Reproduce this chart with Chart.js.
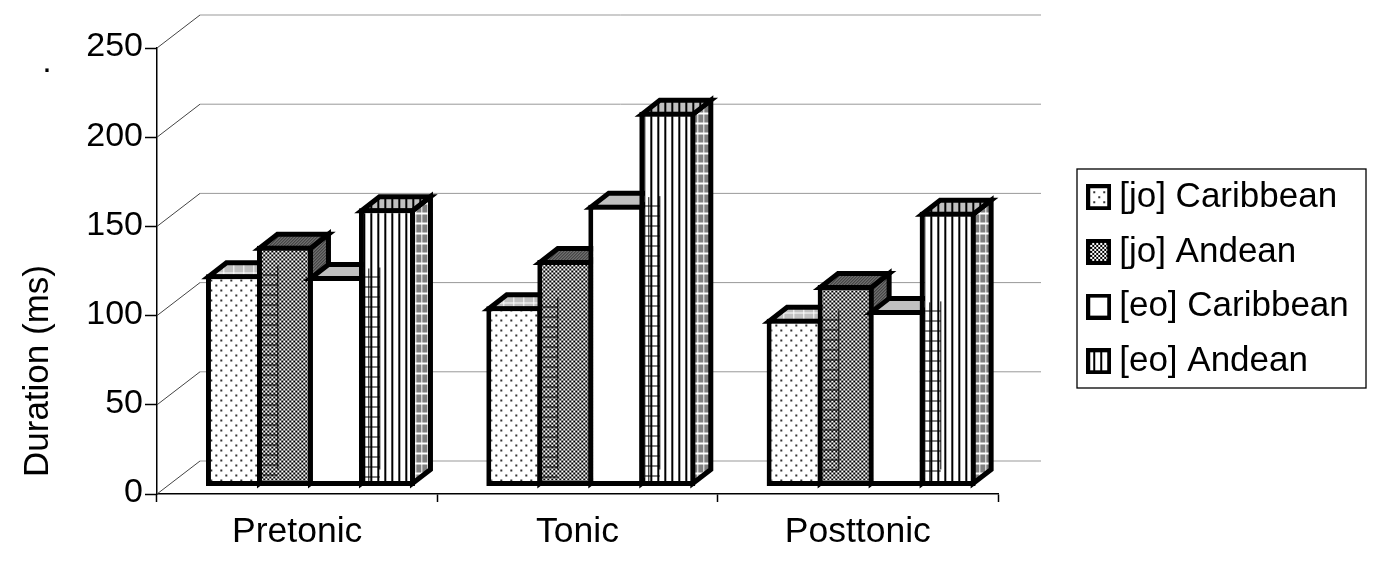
<!DOCTYPE html>
<html>
<head>
<meta charset="utf-8">
<title>Duration</title>
<script src="https://cdn.jsdelivr.net/npm/chart.js@4"></script>
<style>
  html, body { margin: 0; padding: 0; background: #fff; }
  canvas { display: block; }
</style>
</head>
<body>
<canvas id="chart" width="1385" height="568"></canvas>
<script>
const categories = ['Pretonic', 'Tonic', 'Posttonic'];
const jo_caribbean = [119, 101, 94];
const jo_andean = [135, 127, 113];
const eo_caribbean = [118, 158, 99];
const eo_andean = [156, 210, 154];

const FONT = '"Liberation Sans", Arial, sans-serif';
const wall = {dx: 43, dy: 33};       // floor depth of the back wall
const front = {dx: 13.3, dy: 7.5};   // how far the bars stand from the axis plane
const box = {dx: 18, dy: 14};        // depth of a bar
const LINE = 5;

function tile(w, h, paint) {
    const c = document.createElement('canvas');
    c.width = w;
    c.height = h;
    const g = c.getContext('2d');
    paint(g);
    return g.createPattern(c, 'repeat');
}

// front faces
const dots = tile(10, 10, g => {
    g.fillStyle = '#fff';
    g.fillRect(0, 0, 10, 10);
    g.fillStyle = '#333';
    g.fillRect(2, 2, 2, 2);
    g.fillRect(7, 7, 2, 2);
});
const checker = tile(4, 4, g => {
    g.fillStyle = '#fff';
    g.fillRect(0, 0, 4, 4);
    g.fillStyle = '#000';
    g.fillRect(0, 0, 2, 2);
    g.fillRect(2, 2, 2, 2);
});
const stripes = tile(7, 7, g => {
    g.fillStyle = '#fff';
    g.fillRect(0, 0, 7, 7);
    g.fillStyle = '#000';
    g.fillRect(0, 0, 2, 7);
});
// tops and sides
const darkDither = tile(3, 3, g => {
    g.fillStyle = '#333';
    g.fillRect(0, 0, 3, 3);
    g.fillStyle = '#aaa';
    g.fillRect(0, 0, 1, 1);
    g.fillRect(2, 1, 1, 1);
    g.fillRect(1, 2, 1, 1);
});
const greyGrid = tile(10, 10, g => {
    g.fillStyle = '#c0c0c0';
    g.fillRect(0, 0, 10, 10);
    g.fillStyle = '#fff';
    g.fillRect(0, 0, 1, 10);
    g.fillRect(0, 0, 10, 1);
});
const sideGrid = tile(6, 10, g => {
    g.fillStyle = '#808080';
    g.fillRect(0, 0, 6, 10);
    g.fillStyle = '#fff';
    g.fillRect(0, 0, 1, 10);
    g.fillRect(0, 0, 6, 2);
});
const topStripes = tile(7, 7, g => {
    g.fillStyle = '#c0c0c0';
    g.fillRect(0, 0, 7, 7);
    g.fillStyle = '#000';
    g.fillRect(0, 0, 2, 7);
});

const topFill = [greyGrid, darkDither, '#c0c0c0', topStripes];
const sideFill = [greyGrid, darkDither, '#c0c0c0', sideGrid];

function swatch(fill) {
    const c = document.createElement('canvas');
    c.width = 25;
    c.height = 26;
    const g = c.getContext('2d');
    g.fillStyle = '#000';
    g.fillRect(0, 0, 25, 26);
    g.fillStyle = fill;
    g.fillRect(4, 4, 17, 18);
    return c;
}

const series = [
    {label: '[jo] Caribbean', data: jo_caribbean, fill: dots},
    {label: '[jo] Andean', data: jo_andean, fill: checker},
    {label: '[eo] Caribbean', data: eo_caribbean, fill: '#fff'},
    {label: '[eo] Andean', data: eo_andean, fill: stripes}
];

function polygon(ctx, pts, fill) {
    ctx.beginPath();
    pts.forEach((p, i) => i ? ctx.lineTo(p[0], p[1]) : ctx.moveTo(p[0], p[1]));
    ctx.closePath();
    ctx.fillStyle = fill;
    ctx.fill();
    ctx.lineWidth = LINE;
    ctx.strokeStyle = '#000';
    ctx.stroke();
}

function barEdges(el) {
    const p = el.getProps(['x', 'y', 'base', 'width'], true);
    return {
        l: p.x - p.width / 2 + LINE / 2,
        r: p.x + p.width / 2 - LINE / 2,
        t: p.y + LINE / 2,
        b: p.base - LINE / 2
    };
}

const scene = {
    id: 'scene',
    afterLayout(chart) {
        // the legend sits outside the plot, right of the back wall
        const leg = chart.legend;
        leg.left = 1076;
        leg.top = 160;
        leg.width = 300;
        leg.height = 240;
        leg.right = leg.left + leg.width;
        leg.bottom = leg.top + leg.height;
        leg.adjustHitBoxes();
    },
    beforeDatasetsDraw(chart) {
        const ctx = chart.ctx;
        const {x, y} = chart.scales;

        // back wall gridlines and their run down to the axis
        y.ticks.forEach(t => {
            const py = y.getPixelForValue(t.value);
            ctx.lineWidth = 1;
            ctx.strokeStyle = '#444';
            ctx.beginPath();
            ctx.moveTo(x.left, py);
            ctx.lineTo(x.left + wall.dx, py - wall.dy);
            ctx.stroke();
            ctx.strokeStyle = '#999';
            ctx.beginPath();
            ctx.moveTo(x.left + wall.dx, py - wall.dy);
            ctx.lineTo(x.right + wall.dx, py - wall.dy);
            ctx.stroke();
        });

        ctx.save();
        ctx.translate(front.dx, -front.dy);
        ctx.lineJoin = 'miter';

        // left to right so every bar covers the side of the one before
        chart.data.datasets.forEach((ds, i) => {
            chart.getDatasetMeta(i).data.forEach(el => {
                const e = barEdges(el);
                polygon(ctx, [[e.r, e.t], [e.r + box.dx, e.t - box.dy], [e.r + box.dx, e.b - box.dy], [e.r, e.b]], sideFill[i]);
                polygon(ctx, [[e.l, e.t], [e.l + box.dx, e.t - box.dy], [e.r + box.dx, e.t - box.dy], [e.r, e.t]], topFill[i]);
                el.draw(ctx);
            });
        });

        // hatch of the hidden sides shows through the neighbouring bar
        [0, 2].forEach(i => {
            chart.getDatasetMeta(i).data.forEach(el => {
                const e = barEdges(el);
                ctx.strokeStyle = '#000';
                ctx.lineWidth = 1;
                ctx.beginPath();
                const xr = Math.round(e.r + box.dx) + 0.5;
                const xm = Math.round(e.r + 7) + 0.5;
                ctx.moveTo(xr, e.t - box.dy + 3);
                ctx.lineTo(xr, e.b - box.dy);
                if (i === 2) {
                    ctx.moveTo(xm, e.t - box.dy + 4);
                    ctx.lineTo(xm, e.b);
                }
                for (let h = Math.round(e.t - box.dy) + 12.5; h < e.b - 6; h += 10) {
                    ctx.moveTo(e.r + 3, h);
                    ctx.lineTo(xr, h);
                }
                ctx.stroke();
            });
        });
        ctx.restore();
        return false;
    },
    afterDraw(chart) {
        const ctx = chart.ctx;
        ctx.save();

        // legend frame
        ctx.strokeStyle = '#000';
        ctx.lineWidth = 1.3;
        ctx.strokeRect(1077, 169, 289, 219);

        ctx.fillStyle = '#000';
        ctx.textAlign = 'center';
        ctx.textBaseline = 'middle';
        ctx.font = '34px ' + FONT;
        ctx.fillText('.', 47, 63);

        // axis title sits low on the axis
        ctx.translate(38, 371);
        ctx.rotate(-Math.PI / 2);
        ctx.font = '35px ' + FONT;
        ctx.fillText('Duration (ms)', 0, 0);
        ctx.restore();
    }
};

new Chart(document.getElementById('chart').getContext('2d'), {
    type: 'bar',
    data: {
        labels: categories,
        datasets: series.map(s => ({
            label: s.label,
            data: s.data,
            backgroundColor: s.fill,
            borderColor: '#000',
            borderWidth: LINE,
            borderSkipped: false,
            categoryPercentage: 0.7277,
            barPercentage: 1.098
        }))
    },
    options: {
        responsive: false,
        animation: false,
        layout: {padding: {top: 48, right: 387, bottom: 0, left: 0}},
        plugins: {
            tooltip: {enabled: false},
            legend: {
                position: 'chartArea',
                align: 'start',
                labels: {
                    color: '#000',
                    font: {family: FONT, size: 35},
                    usePointStyle: true,
                    boxWidth: 6,
                    padding: 19.7,
                    generateLabels: chart => chart.data.datasets.map((ds, i) => ({
                        text: ds.label,
                        pointStyle: swatch(ds.backgroundColor),
                        fontColor: '#000',
                        lineWidth: 0,
                        datasetIndex: i
                    }))
                }
            }
        },
        scales: {
            x: {
                offset: true,
                afterFit: s => { s.height = 74; },
                border: {color: '#000', width: 1.5},
                grid: {offset: true, drawOnChartArea: false, color: '#000', tickLength: 8, tickWidth: 1.5},
                ticks: {color: '#000', padding: 9, maxRotation: 0, font: {family: FONT, size: 35.5}}
            },
            y: {
                min: 0,
                max: 250,
                afterFit: s => { s.width = 157; },
                border: {color: '#000', width: 1.5},
                grid: {drawOnChartArea: false, color: '#000', tickLength: 12, tickWidth: 1.5},
                ticks: {color: '#000', stepSize: 50, padding: 2, labelOffset: -1, font: {family: FONT, size: 34}}
            }
        }
    },
    plugins: [scene]
});
</script>
</body>
</html>
